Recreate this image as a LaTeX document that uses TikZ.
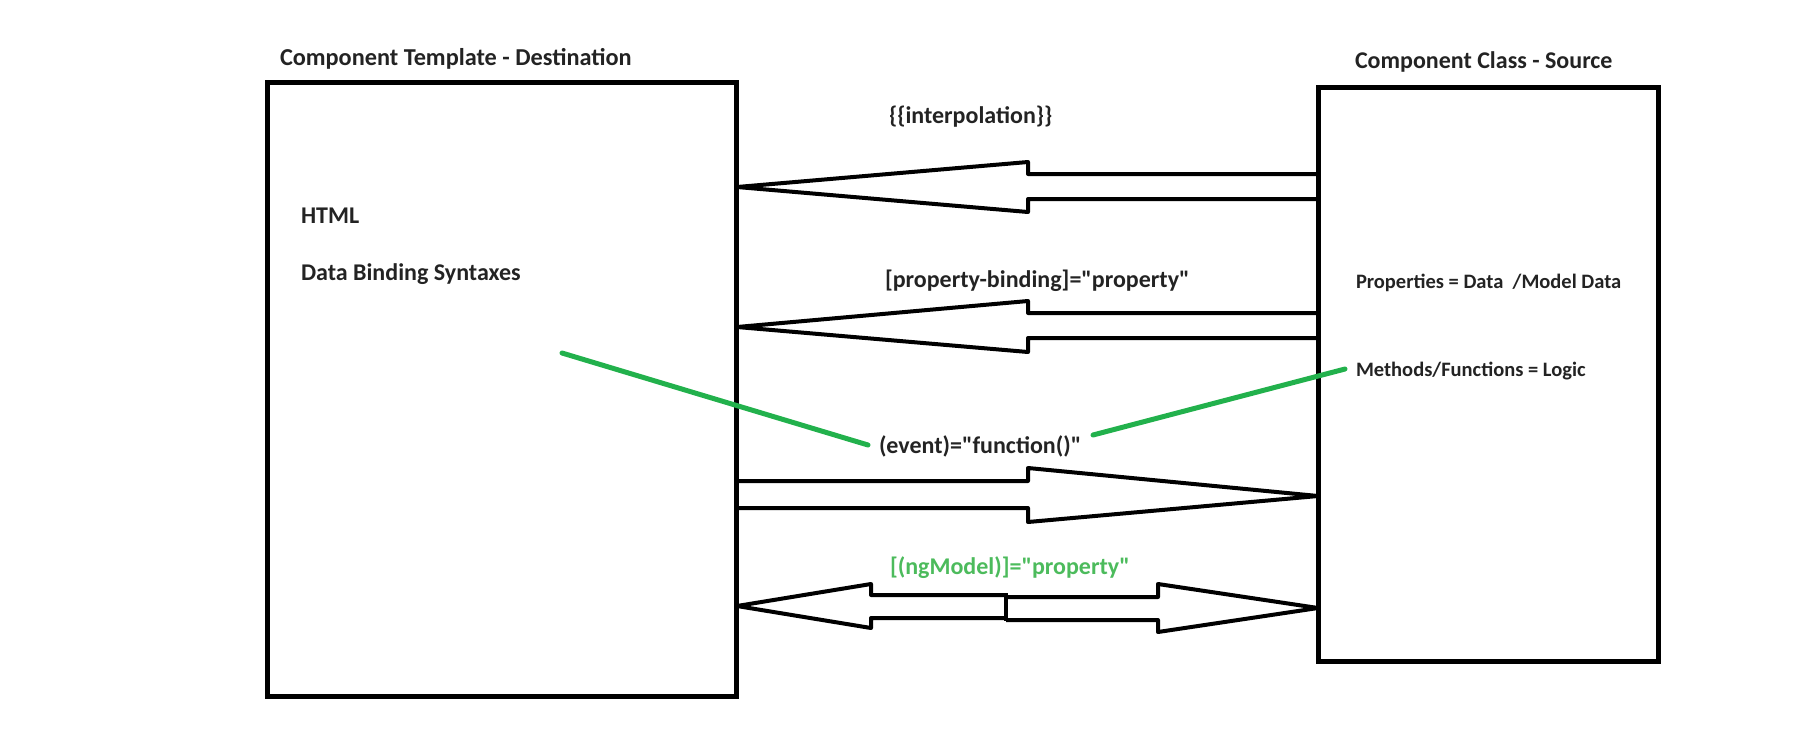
\documentclass[tikz,border=0pt]{standalone}
\usepackage{fontspec}
\setmainfont{Carlito}[Ligatures=TeXOff]
\definecolor{txt}{RGB}{35,35,35}
\definecolor{gline}{RGB}{34,177,76}
\definecolor{gtext}{RGB}{76,187,92}
\tikzset{
  box/.style={draw=black, line width=5pt, inner sep=0pt, outer sep=0pt, anchor=north west},
  blockarrow/.style={draw=black, line width=4pt, line join=round},
  lbl/.style={anchor=base west, inner sep=0pt, outer sep=0pt, text=txt, font=\fontsize{24}{28}\selectfont\bfseries},
  smalllbl/.style={lbl, font=\fontsize{20.5}{24}\selectfont\bfseries},
  greenline/.style={draw=gline, line width=5pt, line cap=round},
}
\begin{document}
\begin{tikzpicture}[x=1pt,y=-1pt]
\useasboundingbox (0,0) rectangle (1809,750);
% boxes
\node[box, minimum width=469pt, minimum height=613.5pt] (tpl) at (267.5,82.5) {};
\node[box, minimum width=340pt, minimum height=574pt] (cls) at (1318.5,87.5) {};
% titles
\node[lbl, font=\fontsize{24.3}{28}\selectfont\bfseries] (tpltitle) at (280,65) {Component Template - Destination};
\node[lbl] (clstitle) at (1355,68) {Component Class - Source};
% left texts
\node[lbl] (html) at (301,223) {HTML};
\node[lbl] (dbs) at (301,280) {Data Binding Syntaxes};
% right texts
\node[smalllbl] (props) at (1356,288) {Properties = Data \ /Model Data};
\node[smalllbl] (meths) at (1356,376) {Methods/Functions = Logic};
% arrow labels
\node[lbl] (interp) at (889,123) {\{\{interpolation\}\}};
\node[lbl] (propb) at (885,287) {[property-binding]="property"};
\node[lbl] (event) at (879,453) {(event)="function()"};
\node[lbl, text=gtext] (ngm) at (890,574) {[(ngModel)]="property"};
% block arrows
\draw[blockarrow] (1318,174) -- (1028,174) -- (1028,162) -- (737,187) -- (1028,212) -- (1028,199) -- (1318,199);
\draw[blockarrow] (1318,313) -- (1028,313) -- (1028,301) -- (737,327) -- (1028,352) -- (1028,338) -- (1318,338);
\draw[blockarrow] (737,481) -- (1028,481) -- (1028,468) -- (1318,496) -- (1028,522) -- (1028,508) -- (737,508);
\draw[blockarrow] (1006,595) -- (871,595) -- (871,584) -- (737,606) -- (871,628) -- (871,618) -- (1006,618);
\draw[blockarrow] (1006,593) -- (1006,621);
\draw[blockarrow] (1006,597) -- (1158,597) -- (1158,584) -- (1318,608) -- (1158,632) -- (1158,620) -- (1006,620);
% green pointer lines
\coordinate (g1a) at (562,353);
\coordinate (g1b) at (868,445);
\coordinate (g2a) at (1093,435);
\coordinate (g2b) at (1345,369);
\draw[greenline] (g1a) -- (g1b);
\draw[greenline] (g2a) -- (g2b);
\end{tikzpicture}
\end{document}
